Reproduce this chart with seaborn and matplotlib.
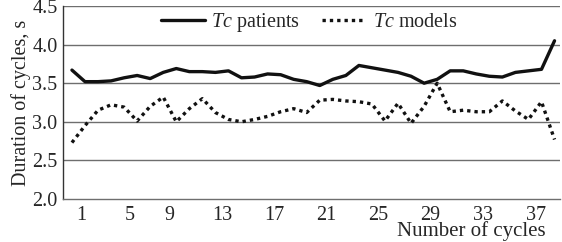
import numpy as np
import pandas as pd
import seaborn as sns
import matplotlib.pyplot as plt

# cycle numbers and durations (s)
cycles = list(range(1, 39))
tc_patients = [3.67, 3.52, 3.52, 3.53, 3.57, 3.60, 3.56, 3.64, 3.69, 3.65,
               3.65, 3.64, 3.66, 3.57, 3.58, 3.62, 3.61, 3.55, 3.52, 3.47,
               3.55, 3.60, 3.73, 3.70, 3.67, 3.64, 3.59, 3.50, 3.55, 3.66,
               3.66, 3.62, 3.59, 3.58, 3.64, 3.66, 3.68, 4.05]
tc_models = [2.73, 2.95, 3.15, 3.22, 3.19, 3.01, 3.20, 3.32, 3.00, 3.17,
             3.30, 3.12, 3.03, 3.00, 3.03, 3.07, 3.13, 3.17, 3.12, 3.28,
             3.29, 3.27, 3.26, 3.23, 3.01, 3.24, 2.98, 3.20, 3.50, 3.13,
             3.15, 3.13, 3.13, 3.27, 3.14, 3.03, 3.26, 2.77]
tick_labels = ["1", "5", "9", "13", "17", "21", "25", "29", "33", "37"]
tick_pos = [1.7, 5.4, 8.5, 12.5, 16.5, 20.5, 24.5, 28.5, 32.5, 36.6]
y_ticks = [2.0, 2.5, 3.0, 3.5, 4.0, 4.5]

df = pd.DataFrame({"cycle": cycles, "patients": tc_patients, "models": tc_models})

sns.set_style("white")
plt.rcParams["font.family"] = ["Liberation Serif", "DejaVu Serif"]
plt.rcParams["mathtext.fontset"] = "custom"
plt.rcParams["mathtext.it"] = "Liberation Serif:italic"
plt.rcParams["mathtext.rm"] = "Liberation Serif"

fig = plt.figure(figsize=(5.62, 2.42), dpi=100)
ax = fig.add_axes([0.112, 0.178, 0.884, 0.797])

for y in y_ticks[1:]:
    ax.axhline(y, color="#6e6e6e", lw=1.0, zorder=0)

sns.lineplot(data=df, x="cycle", y="patients", ax=ax, color="#111111", lw=2.4,
             label=r"$Tc$ patients")
sns.lineplot(data=df, x="cycle", y="models", ax=ax, color="#111111", lw=2.4,
             linestyle=(0, (1, 1.2)), label=r"$Tc$ models")

ax.set_xlim(0.31, 38.4)
ax.set_ylim(2.0, 4.5)
ax.set_yticks(y_ticks)
ax.set_yticklabels([f"{v:.1f}" for v in y_ticks], fontsize=14.5)
ax.set_xticks(tick_pos)
ax.set_xticklabels(tick_labels, fontsize=14.5)
ax.tick_params(axis="both", direction="out", length=4, width=1,
               color="#6e6e6e", pad=0)
ax.tick_params(axis="x", pad=1)
ax.set_xlabel("")
ax.set_ylabel("Duration of cycles, s", fontsize=14.5, labelpad=1)

for side in ["top", "right"]:
    ax.spines[side].set_visible(False)
ax.spines["left"].set_color("#333333")
ax.spines["bottom"].set_color("#6e6e6e")
ax.spines["left"].set_linewidth(1.0)
ax.spines["bottom"].set_linewidth(1.0)

ax.legend(loc="upper center", bbox_to_anchor=(0.495, 1.07), ncol=2, frameon=False,
          fontsize=14.5, handlelength=2.2, columnspacing=1.1, handletextpad=0.3)

fig.text(0.838, 0.005, "Number of cycles", ha="center", va="bottom", fontsize=15)

fig.savefig("out.png", dpi=100)
